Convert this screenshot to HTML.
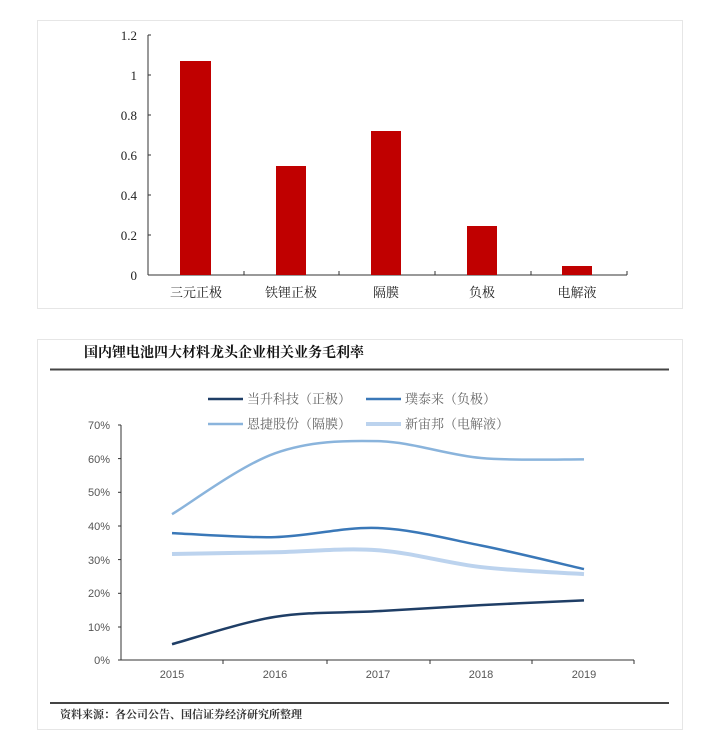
<!DOCTYPE html>
<html><head><meta charset="utf-8"><style>
body{margin:0;background:#fff;width:710px;height:750px;overflow:hidden}
svg{display:block}
</style></head><body>
<svg width="710" height="750" xmlns="http://www.w3.org/2000/svg">
<rect x="37.5" y="20.5" width="645" height="288" fill="#fff" stroke="#e6e6e6"/>
<g font-family="Liberation Serif, 'Noto Serif CJK SC', serif" font-size="13" fill="#222">
<line x1="148" y1="35" x2="148" y2="275" stroke="#333"/>
<line x1="148" y1="275" x2="627" y2="275" stroke="#333"/>
<g stroke="#333">
<line x1="148" y1="35" x2="151" y2="35"/><line x1="148" y1="75" x2="151" y2="75"/><line x1="148" y1="115" x2="151" y2="115"/><line x1="148" y1="155" x2="151" y2="155"/><line x1="148" y1="195" x2="151" y2="195"/><line x1="148" y1="235" x2="151" y2="235"/>
<line x1="244" y1="275" x2="244" y2="271"/><line x1="339" y1="275" x2="339" y2="271"/><line x1="435" y1="275" x2="435" y2="271"/><line x1="531" y1="275" x2="531" y2="271"/><line x1="627" y1="275" x2="627" y2="271"/>
</g>
<g text-anchor="end">
<text x="137" y="40">1.2</text><text x="137" y="80">1</text><text x="137" y="120">0.8</text><text x="137" y="160">0.6</text><text x="137" y="200">0.4</text><text x="137" y="240">0.2</text><text x="137" y="280">0</text>
</g>
<g fill="#c00000">
<rect x="180" y="61" width="31" height="214"/>
<rect x="276" y="166" width="30" height="109"/>
<rect x="371" y="131" width="30" height="144"/>
<rect x="467" y="226" width="30" height="49"/>
<rect x="562" y="266" width="30" height="9"/>
</g>
<g text-anchor="middle" font-family="Liberation Serif, 'Noto Serif CJK SC', serif" font-size="13">
<text x="196" y="297">三元正极</text><text x="291" y="297">铁锂正极</text><text x="386" y="297">隔膜</text><text x="482" y="297">负极</text><text x="577" y="297">电解液</text>
</g>
</g>

<rect x="37.5" y="339.5" width="645" height="390" fill="#fff" stroke="#e6e6e6"/>
<text x="84" y="357" font-family="'Noto Serif CJK SC', serif" font-weight="bold" font-size="14" fill="#111">国内锂电池四大材料龙头企业相关业务毛利率</text>
<line x1="50" y1="369.5" x2="669" y2="369.5" stroke="#444" stroke-width="2"/>
<line x1="50" y1="703" x2="669" y2="703" stroke="#444" stroke-width="2"/>
<text x="60" y="718" font-family="'Noto Serif CJK SC', serif" font-weight="bold" font-size="11" fill="#333">资料来源：各公司公告、国信证券经济研究所整理</text>

<g font-family="'Noto Serif CJK SC', serif" font-size="13" fill="#666">
<line x1="208" y1="399" x2="243" y2="399" stroke="#1f3e66" stroke-width="2.5"/><text x="247" y="403.5">当升科技（正极）</text>
<line x1="366" y1="399" x2="401" y2="399" stroke="#3a78b8" stroke-width="2.5"/><text x="405" y="403.5">璞泰来（负极）</text>
<line x1="208" y1="424" x2="243" y2="424" stroke="#8ab4dc" stroke-width="2.5"/><text x="247" y="428.5">恩捷股份（隔膜）</text>
<line x1="366" y1="424" x2="401" y2="424" stroke="#bcd3ee" stroke-width="4"/><text x="405" y="428.5">新宙邦（电解液）</text>
</g>

<g font-family="Liberation Sans, sans-serif" font-size="11" fill="#555">
<line x1="121" y1="425" x2="121" y2="660" stroke="#333"/>
<line x1="121" y1="660" x2="634" y2="660" stroke="#333"/>
<g stroke="#333">
<line x1="118" y1="425" x2="121" y2="425"/><line x1="118" y1="458.6" x2="121" y2="458.6"/><line x1="118" y1="492.3" x2="121" y2="492.3"/><line x1="118" y1="526" x2="121" y2="526"/><line x1="118" y1="559.6" x2="121" y2="559.6"/><line x1="118" y1="593.3" x2="121" y2="593.3"/><line x1="118" y1="627" x2="121" y2="627"/><line x1="118" y1="660" x2="121" y2="660"/>
<line x1="223" y1="660" x2="223" y2="664"/><line x1="327" y1="660" x2="327" y2="664"/><line x1="430" y1="660" x2="430" y2="664"/><line x1="532" y1="660" x2="532" y2="664"/><line x1="634" y1="660" x2="634" y2="664"/>
</g>
<g text-anchor="end">
<text x="110" y="429">70%</text><text x="110" y="463">60%</text><text x="110" y="496">50%</text><text x="110" y="530">40%</text><text x="110" y="564">30%</text><text x="110" y="597">20%</text><text x="110" y="631">10%</text><text x="110" y="664">0%</text>
</g>
<g text-anchor="middle">
<text x="172" y="678">2015</text><text x="275" y="678">2016</text><text x="378" y="678">2017</text><text x="481" y="678">2018</text><text x="584" y="678">2019</text>
</g>
</g>
<g fill="none" id="lines"></g>
</svg>
<script>
var xs=[172,275,378,481,584];
function y(v){return 660-v*3.367;}
var S=[
[[31.5,32,32.6,27.6,25.5],"#bcd3ee",4],
[[43.3,61.4,65,60,59.6],"#8ab4dc",2.5],
[[37.7,36.5,39.2,34,27],"#3a78b8",2.5],
[[4.7,12.8,14.5,16.3,17.7],"#1f3e66",2.5]];
var g=document.getElementById("lines");
S.forEach(function(s){
 var p=s[0].map(function(v,i){return [xs[i],y(v)];});
 var d="M"+p[0][0]+","+p[0][1];
 for(var i=0;i<p.length-1;i++){
  var p0=p[i-1]||p[i],p1=p[i],p2=p[i+1],p3=p[i+2]||p2,t=6;
  var c1=[p1[0]+(p2[0]-p0[0])/t,p1[1]+(p2[1]-p0[1])/t];
  var c2=[p2[0]-(p3[0]-p1[0])/t,p2[1]-(p3[1]-p1[1])/t];
  d+=" C"+c1+" "+c2+" "+p2;
 }
 var e=document.createElementNS("http://www.w3.org/2000/svg","path");
 e.setAttribute("d",d);e.setAttribute("stroke",s[1]);e.setAttribute("stroke-width",s[2]);e.setAttribute("fill","none");
 g.appendChild(e);
});
</script>
</body></html>
